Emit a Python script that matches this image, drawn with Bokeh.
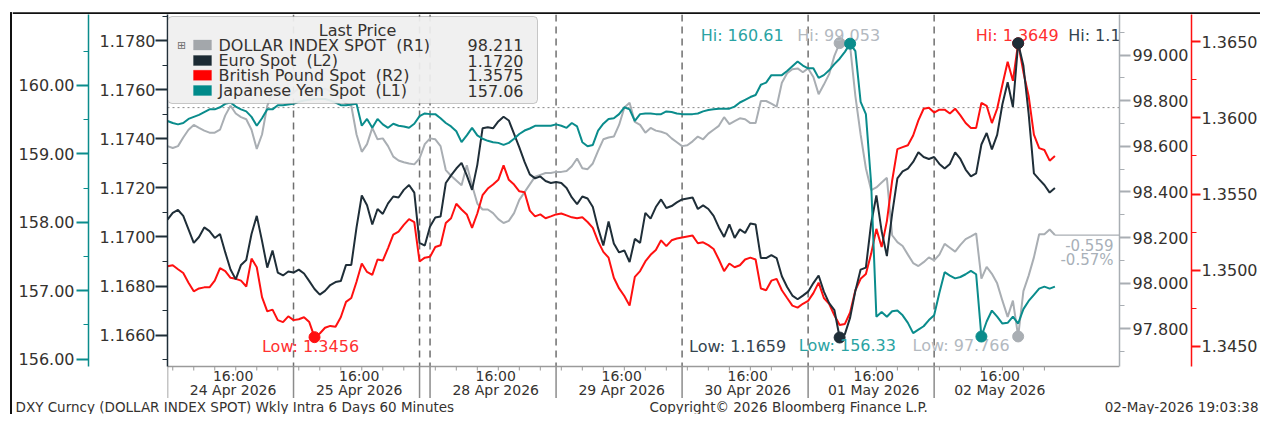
from bokeh.plotting import figure
from bokeh.layouts import row, column
from bokeh.models import (Range1d, LinearAxis, FixedTicker, PrintfTickFormatter, Span,
                          Label, BoxAnnotation)
from bokeh.embed import file_html
from bokeh.resources import INLINE
from bokeh.core.properties import value

# ---------------- data (hourly closes, 60-minute bars) ----------------
eur = [1.17071, 1.17098, 1.17110, 1.17086, 1.17031, 1.16976, 1.17000, 1.17039, 1.17024, 1.16996,
       1.17012, 1.16937, 1.16867, 1.16827, 1.16886, 1.16906, 1.17012, 1.17086, 1.16984, 1.16875,
       1.16945, 1.16855, 1.16843, 1.16859, 1.16855, 1.16867, 1.16851, 1.16820, 1.16788, 1.16765,
       1.16780, 1.16804, 1.16816, 1.16820, 1.16886, 1.16886, 1.17039, 1.17169, 1.17129, 1.17051,
       1.17114, 1.17094, 1.17137, 1.17165, 1.17161, 1.17192, 1.17212, 1.17181, 1.16976, 1.16965,
       1.17043, 1.17079, 1.17083, 1.17220, 1.17251, 1.17279, 1.17302, 1.17251, 1.17192, 1.17294,
       1.17443, 1.17447, 1.17443, 1.17471, 1.17490, 1.17475, 1.17420, 1.17365, 1.17306, 1.17255,
       1.17239, 1.17247, 1.17228, 1.17220, 1.17224, 1.17220, 1.17200, 1.17161, 1.17134, 1.17165,
       1.17157, 1.17122, 1.17036, 1.16965, 1.17063, 1.16973, 1.16937, 1.16945, 1.16898, 1.16992,
       1.16976, 1.17098, 1.17075, 1.17122, 1.17153, 1.17118, 1.17126, 1.17141, 1.17153, 1.17157,
       1.17161, 1.17114, 1.17129, 1.17114, 1.17086, 1.17039, 1.17000, 1.17051, 1.16996, 1.17031,
       1.17016, 1.17055, 1.17051, 1.16914, 1.16914, 1.16926, 1.16914, 1.16840, 1.16796, 1.16761,
       1.16746, 1.16761, 1.16777, 1.16812, 1.16843, 1.16777, 1.16730, 1.16702, 1.16590, 1.16604,
       1.16671, 1.16780, 1.16867, 1.16875, 1.17055, 1.17169, 1.17024, 1.16922, 1.17094, 1.17239,
       1.17267, 1.17279, 1.17306, 1.17345, 1.17326, 1.17318, 1.17326, 1.17298, 1.17279, 1.17298,
       1.17345, 1.17318, 1.17275, 1.17247, 1.17259, 1.17377, 1.17424, 1.17357, 1.17416, 1.17541,
       1.17631, 1.17530, 1.17790, 1.17698, 1.17502, 1.17259, 1.17235, 1.17212, 1.17181, 1.17200]

gbp = [1.35025, 1.35032, 1.35006, 1.34981, 1.34918, 1.34861, 1.34880, 1.34887, 1.34887, 1.34931,
       1.35013, 1.34994, 1.34950, 1.34943, 1.34931, 1.34893, 1.35076, 1.35019, 1.34823, 1.34729,
       1.34741, 1.34672, 1.34659, 1.34697, 1.34672, 1.34678, 1.34691, 1.34659, 1.34560, 1.34584,
       1.34622, 1.34634, 1.34628, 1.34691, 1.34792, 1.34817, 1.34924, 1.35044, 1.34988, 1.34969,
       1.35070, 1.35063, 1.35145, 1.35234, 1.35253, 1.35297, 1.35335, 1.35316, 1.35057, 1.35082,
       1.35088, 1.35152, 1.35164, 1.35309, 1.35341, 1.35436, 1.35398, 1.35366, 1.35278, 1.35372,
       1.35492, 1.35536, 1.35562, 1.35593, 1.35688, 1.35593, 1.35562, 1.35518, 1.35511, 1.35391,
       1.35353, 1.35366, 1.35341, 1.35353, 1.35366, 1.35372, 1.35360, 1.35347, 1.35341, 1.35347,
       1.35316, 1.35278, 1.35189, 1.35120, 1.35082, 1.34950, 1.34880, 1.34830, 1.34767, 1.34956,
       1.34994, 1.35057, 1.35101, 1.35133, 1.35196, 1.35158, 1.35196, 1.35208, 1.35215, 1.35221,
       1.35227, 1.35177, 1.35183, 1.35164, 1.35139, 1.35070, 1.34994, 1.35044, 1.35019, 1.35032,
       1.35070, 1.35082, 1.35070, 1.34880, 1.34868, 1.34931, 1.34943, 1.34868, 1.34817, 1.34767,
       1.34754, 1.34779, 1.34798, 1.34849, 1.34918, 1.34817, 1.34779, 1.34704, 1.34640, 1.34647,
       1.34722, 1.34868, 1.34943, 1.34975, 1.35107, 1.35271, 1.35152, 1.35322, 1.35587, 1.35795,
       1.35808, 1.35820, 1.35884, 1.35984, 1.36060, 1.36067, 1.36035, 1.36054, 1.36054, 1.36029,
       1.36060, 1.36016, 1.35966, 1.35934, 1.35934, 1.36098, 1.36079, 1.35966, 1.36060, 1.36218,
       1.36369, 1.36243, 1.36490, 1.36300, 1.36142, 1.35890, 1.35801, 1.35789, 1.35719, 1.35750]

jpy = [159.48, 159.45, 159.43, 159.45, 159.51, 159.54, 159.57, 159.61, 159.65, 159.65,
       159.68, 159.73, 159.75, 159.69, 159.65, 159.62, 159.54, 159.41, 159.52, 159.65,
       159.65, 159.71, 159.71, 159.72, 159.73, 159.76, 159.78, 159.79, 159.80, 159.80,
       159.80, 159.78, 159.75, 159.71, 159.71, 159.72, 159.73, 159.41, 159.51, 159.38,
       159.51, 159.43, 159.38, 159.44, 159.41, 159.40, 159.38, 159.44, 159.55, 159.59,
       159.58, 159.58, 159.52, 159.45, 159.40, 159.33, 159.17, 159.27, 159.38, 159.27,
       159.22, 159.19, 159.17, 159.16, 159.13, 159.16, 159.22, 159.29, 159.34, 159.37,
       159.41, 159.41, 159.41, 159.41, 159.43, 159.41, 159.38, 159.45, 159.40, 159.17,
       159.11, 159.13, 159.34, 159.44, 159.51, 159.52, 159.58, 159.68, 159.65, 159.48,
       159.58, 159.59, 159.59, 159.58, 159.58, 159.62, 159.61, 159.59, 159.58, 159.58,
       159.58, 159.59, 159.62, 159.64, 159.65, 159.66, 159.66, 159.66, 159.69, 159.75,
       159.79, 159.83, 159.86, 160.01, 160.04, 160.15, 160.15, 160.15, 160.21, 160.28,
       160.35, 160.29, 160.25, 160.25, 160.11, 160.15, 160.22, 160.31, 160.39, 160.49,
       160.61, 160.50, 159.76, 159.58, 158.57, 156.62, 156.69, 156.62, 156.70, 156.71,
       156.64, 156.53, 156.38, 156.43, 156.48, 156.57, 156.64, 156.97, 157.27, 157.22,
       157.18, 157.20, 157.24, 157.29, 157.24, 156.33, 156.55, 156.71, 156.62, 156.52,
       156.53, 156.62, 156.52, 156.73, 156.85, 156.94, 157.03, 157.06, 157.03, 157.06]

dxy = [98.601, 98.593, 98.601, 98.639, 98.673, 98.694, 98.681, 98.669, 98.660, 98.660,
       98.673, 98.736, 98.778, 98.744, 98.728, 98.719, 98.673, 98.589, 98.652, 98.778,
       98.837, 98.854, 98.841, 98.820, 98.837, 98.854, 98.862, 98.854, 98.841, 98.845,
       98.854, 98.841, 98.829, 98.812, 98.787, 98.778, 98.652, 98.576, 98.610, 98.681,
       98.631, 98.635, 98.601, 98.555, 98.538, 98.530, 98.525, 98.521, 98.547, 98.610,
       98.635, 98.631, 98.601, 98.496, 98.471, 98.450, 98.429, 98.517, 98.429, 98.349,
       98.323, 98.323, 98.307, 98.281, 98.264, 98.273, 98.307, 98.365, 98.399, 98.433,
       98.467, 98.475, 98.483, 98.483, 98.488, 98.488, 98.492, 98.513, 98.547, 98.504,
       98.500, 98.525, 98.580, 98.631, 98.639, 98.643, 98.694, 98.770, 98.791, 98.707,
       98.694, 98.660, 98.681, 98.669, 98.664, 98.656, 98.635, 98.618, 98.601, 98.605,
       98.622, 98.643, 98.631, 98.656, 98.673, 98.690, 98.728, 98.698, 98.711, 98.723,
       98.719, 98.702, 98.702, 98.799, 98.799, 98.787, 98.774, 98.879, 98.921, 98.938,
       98.942, 98.925, 98.942, 98.904, 98.829, 98.871, 98.917, 98.997, 99.053, 99.043,
       99.039, 98.820, 98.652, 98.504, 98.408, 98.420, 98.441, 98.462, 98.210, 98.180,
       98.163, 98.125, 98.088, 98.075, 98.092, 98.113, 98.100, 98.125, 98.172, 98.155,
       98.138, 98.168, 98.193, 98.205, 98.218, 98.020, 98.071, 98.041, 97.999, 97.923,
       97.852, 97.923, 97.766, 97.965, 98.033, 98.113, 98.214, 98.214, 98.235, 98.211]

dxy_ref_level = 98.770          # level the change (-0.559 / -0.57%) is measured from
hours = list(range(len(dxy)))   # bar index (60-minute bars, sessions joined)

day_labels = ["24 Apr 2026", "25 Apr 2026", "28 Apr 2026", "29 Apr 2026",
              "30 Apr 2026", "01 May 2026", "02 May 2026"]
day_starts = [0, 24, 50, 74, 98, 122, 146]
session_breaks = [0, 24, 48, 50, 74, 98, 122, 146]
hour_label = "16:00"

series_names = ["DOLLAR INDEX SPOT\u00a0 (R1)", "Euro Spot\u00a0 (L2)",
                "British Pound Spot\u00a0 (R2)", "Japanese Yen Spot\u00a0 (L1)"]

# axis limits (value at bottom / top of the plotting area)
eur_lim = (1.164718, 1.179071)
jpy_lim = (155.892, 161.036)
dxy_lim = (97.6342, 99.1785)
gbp_lim = (1.343674, 1.366787)

eur_ticks = [1.1660, 1.1680, 1.1700, 1.1720, 1.1740, 1.1760, 1.1780]
eur_minor = [1.1650, 1.1670, 1.1690, 1.1710, 1.1730, 1.1750, 1.1770, 1.1790]
jpy_ticks = [156.0, 157.0, 158.0, 159.0, 160.0]
jpy_minor = [156.5, 157.5, 158.5, 159.5, 160.5]
dxy_ticks = [97.8, 98.0, 98.2, 98.4, 98.6, 98.8, 99.0]
dxy_minor = [97.7, 97.9, 98.1, 98.3, 98.5, 98.7, 98.9, 99.1]
gbp_ticks = [1.345, 1.350, 1.355, 1.360, 1.365]
gbp_minor = [1.3475, 1.3525, 1.3575, 1.3625]

footer_left = "DXY Curncy (DOLLAR INDEX SPOT) Wkly Intra 6 Days 60 Minutes"
footer_mid = "Copyright\u00a9 2026 Bloomberg Finance L.P."
footer_right = "02-May-2026 19:03:38"

# ---------------- styling / layout ----------------
FONT = "DejaVu Sans"
TXT = "#35322f"
C_DXY = "#a9aeb3"
C_EUR = "#1f2e38"
C_GBP = "#ff1010"
C_JPY = "#0a8c8c"

TOTAL_W, TOTAL_H = 1260, 414
LEFT_W, TOP_H, FOOT_H = 12, 14, 16
MAIN_W = TOTAL_W - LEFT_W
MAIN_H = TOTAL_H - TOP_H - FOOT_H      # 384
CHART_H = 352                          # plotting area height; strip for time labels below
STRIP = MAIN_H - CHART_H


def full_range(lim):
    lo, hi = lim
    return Range1d(lo - (hi - lo) * STRIP / CHART_H, hi)


p = figure(width=MAIN_W, height=MAIN_H, output_backend="svg", toolbar_location=None,
           x_axis_location=None, x_range=Range1d(0, 181.3), y_range=full_range(eur_lim),
           min_border_left=155, min_border_right=136, min_border_top=0, min_border_bottom=0,
           frame_align=False)
p.extra_y_ranges = {"jpy": full_range(jpy_lim), "dxy": full_range(dxy_lim),
                    "gbp": full_range(gbp_lim), "px": Range1d(MAIN_H, 0)}
p.xgrid.visible = False
p.ygrid.visible = False
p.outline_line_color = None
p.background_fill_color = "white"
p.border_fill_color = "white"


def style_axis(ax, col, lim, ticks, minor, fmt, tick_out, standoff, pad=None):
    ax.bounds = lim
    ax.ticker = FixedTicker(ticks=ticks, minor_ticks=minor)
    ax.formatter = PrintfTickFormatter(format=fmt)
    ax.axis_line_color = col
    ax.axis_line_width = 1.5
    ax.major_tick_line_color = col
    ax.major_tick_line_width = 2
    ax.major_tick_out = tick_out
    ax.major_tick_in = 0
    ax.minor_tick_line_color = col
    ax.minor_tick_out = 5
    ax.minor_tick_in = 0
    ax.major_label_standoff = standoff
    ax.major_label_text_font = FONT
    ax.major_label_text_font_size = "16px"
    ax.major_label_text_color = TXT
    if pad is not None:
        ax.axis_label = " "
        ax.axis_label_text_font_size = "4px"
        ax.axis_label_standoff = pad


ax_eur = p.yaxis[0]
style_axis(ax_eur, C_EUR, eur_lim, eur_ticks, eur_minor, "%.4f", 12, 0, pad=0)
ax_jpy = LinearAxis(y_range_name="jpy")
p.add_layout(ax_jpy, "left")
style_axis(ax_jpy, C_JPY, jpy_lim, jpy_ticks, jpy_minor, "%.2f", 12, 2)
ax_dxy = LinearAxis(y_range_name="dxy")
p.add_layout(ax_dxy, "right")
style_axis(ax_dxy, C_DXY, dxy_lim, dxy_ticks, dxy_minor, "%.3f", 11, 2)
ax_gbp = LinearAxis(y_range_name="gbp")
p.add_layout(ax_gbp, "right")
style_axis(ax_gbp, C_GBP, gbp_lim, gbp_ticks, gbp_minor, "%.4f", 9, 1)

# ---- time strip: axis line, 4-hour ticks, session separators, labels ----
x_end = p.x_range.end
label_pos = [d + 12.5 for d in day_starts]
minor_pos = [d + k for d in day_starts for k in (1, 5, 9, 13, 17, 21)]
n_b = len(session_breaks)
p.segment(x0=[0], y0=[CHART_H], x1=[x_end], y1=[CHART_H], y_range_name="px",
          line_color="#9a9a9a", line_width=1.5)
p.segment(x0=minor_pos, y0=[CHART_H] * len(minor_pos), x1=minor_pos,
          y1=[CHART_H + 4] * len(minor_pos), y_range_name="px", line_color="#9a9a9a", line_width=1)
p.segment(x0=session_breaks, y0=[CHART_H] * n_b, x1=session_breaks,
          y1=[MAIN_H] * n_b, y_range_name="px", line_color="#8c8c8c", line_width=1.5)
p.segment(x0=session_breaks[1:], y0=[0] * (n_b - 1), x1=session_breaks[1:],
          y1=[CHART_H] * (n_b - 1), y_range_name="px", line_color="#6f6f6f",
          line_width=1.5, line_dash="7 5", level="underlay")
p.text(x=label_pos, y=[CHART_H + 9] * len(label_pos), text=[hour_label] * len(label_pos),
       y_range_name="px", text_align="center", text_baseline="middle",
       text_font=value(FONT), text_font_size="14px", text_color=TXT)
p.text(x=label_pos, y=[CHART_H + 23.5] * len(label_pos), text=day_labels,
       y_range_name="px", text_align="center", text_baseline="middle",
       text_font=value(FONT), text_font_size="14px", text_color=TXT)

# dotted reference level
p.add_layout(Span(location=dxy_ref_level, dimension="width", y_range_name="dxy",
                  line_color="#8a8a8a", line_dash="2 3", line_width=1, level="underlay"))

# ---------------- series ----------------
p.line(hours, dxy, y_range_name="dxy", line_color=C_DXY, line_width=2)
p.line(hours, gbp, y_range_name="gbp", line_color=C_GBP, line_width=2)
p.line(hours, eur, line_color=C_EUR, line_width=2)
p.line(hours, jpy, y_range_name="jpy", line_color=C_JPY, line_width=2)

# last-price line of DXY into the axis and change labels
p.segment(x0=[hours[-1]], y0=[dxy[-1]], x1=[x_end], y1=[dxy[-1]], y_range_name="dxy",
          line_color=C_DXY, line_width=1.2)
chg = dxy[-1] - dxy_ref_level
pct = chg / dxy_ref_level * 100
p.text(x=[x_end, x_end], y=[dxy[-1], dxy[-1]], text=[f"{chg:.3f}", f"{pct:.2f}%"],
       y_range_name="dxy", x_offset=-6, y_offset=[10, 25], text_align="right",
       text_baseline="middle", text_font=value(FONT), text_font_size="15px",
       text_color="#a8b0b8")


# Hi / Low markers
def hilo(arr, rn, col, lab_col, fmt, hi_dx, lo_dx, hi_align="center"):
    imax = arr.index(max(arr))
    imin = arr.index(min(arr))
    kw = {} if rn is None else {"y_range_name": rn}
    p.scatter([imax, imin], [arr[imax], arr[imin]], size=11, marker="circle",
              fill_color=col, line_color=col, **kw)
    p.text(x=[imax], y=[arr[imax]], text=[f"Hi: {arr[imax]:{fmt}}"], x_offset=hi_dx, y_offset=-8,
           text_align=hi_align, text_baseline="middle", text_font=value(FONT),
           text_font_size="16px", text_color=lab_col, **kw)
    p.text(x=[imin], y=[arr[imin]], text=[f"Low: {arr[imin]:{fmt}}"], x_offset=lo_dx, y_offset=9,
           text_align="center", text_baseline="middle", text_font=value(FONT),
           text_font_size="16px", text_color=lab_col, **kw)


hilo(gbp, "gbp", C_GBP, "#ff3030", ".4f", -1, -4)
hilo(dxy, "dxy", C_DXY, "#b3b9bf", ".3f", -1, -57)
hilo(eur, None, C_EUR, "#34444f", ".4f", 50, -102, hi_align="left")
hilo(jpy, "jpy", C_JPY, "#2aa3a3", ".2f", -108, -134)

# ---------------- legend box ----------------
p.add_layout(BoxAnnotation(left=0.5, right=370, top=2, bottom=89, y_range_name="px",
                           left_units="screen", right_units="screen",
                           fill_color="#efefef", fill_alpha=0.93,
                           line_color="#555555", line_width=1, border_radius=4))
p.add_layout(Label(x=190, y=16, x_units="screen", y_range_name="px", text="Last Price",
                   text_align="center", text_baseline="middle", text_font=FONT,
                   text_font_size="16px", text_color=TXT))
last_vals = [f"{dxy[-1]:.3f}", f"{eur[-1]:.4f}", f"{gbp[-1]:.4f}", f"{jpy[-1]:.2f}"]
colors = ["#a3a7ab", "#1b2a33", "#ff0000", "#008a8a"]
row_y = [30.5, 46, 60.8, 76]
for name, val, col, yy in zip(series_names, last_vals, colors, row_y):
    p.add_layout(BoxAnnotation(left=26, right=44, top=yy - 5, bottom=yy + 5, y_range_name="px",
                               left_units="screen", right_units="screen",
                               fill_color=col, fill_alpha=1, line_color=col, line_width=1))
    p.add_layout(Label(x=51, y=yy, x_units="screen", y_range_name="px", text=name,
                       text_align="left", text_baseline="middle", text_font=FONT,
                       text_font_size="16px", text_color=TXT))
    p.add_layout(Label(x=356, y=yy, x_units="screen", y_range_name="px", text=val,
                       text_align="right", text_baseline="middle", text_font=FONT,
                       text_font_size="16px", text_color=TXT))
p.add_layout(Label(x=14, y=row_y[0], x_units="screen", y_range_name="px", text="\u229e",
                   text_align="center", text_baseline="middle", text_font=FONT,
                   text_font_size="11px", text_color="#707070"))


# ---------------- outer frame strips and footer ----------------
def blank(w, h):
    f = figure(width=w, height=h, output_backend="svg", toolbar_location=None,
               x_axis_location=None, y_axis_location=None,
               x_range=Range1d(0, w), y_range=Range1d(h, 0), min_border=0,
               frame_align=False)
    f.grid.visible = False
    f.outline_line_color = None
    f.background_fill_color = "white"
    f.border_fill_color = "white"
    return f


left_strip = blank(LEFT_W, TOTAL_H)
left_strip.segment(x0=[10.5, 9.5], y0=[11.75, 12.75], x1=[10.5, LEFT_W], y1=[TOTAL_H, 12.75],
                   line_color="#111111", line_width=2)
top_strip = blank(MAIN_W, TOP_H)
top_strip.segment(x0=[0], y0=[12.75], x1=[MAIN_W], y1=[12.75], line_color="#111111", line_width=2)
foot = blank(MAIN_W, FOOT_H)
foot.text(x=[3, 637, MAIN_W - 2], y=[8, 8, 8], text=[footer_left, footer_mid, footer_right],
          text_align=["left", "left", "right"], text_baseline="middle",
          text_font=value(FONT), text_font_size="13.5px", text_color=TXT)

layout = row(left_strip, column(top_strip, p, foot))
open("out.html", "w").write(file_html(layout, INLINE))
